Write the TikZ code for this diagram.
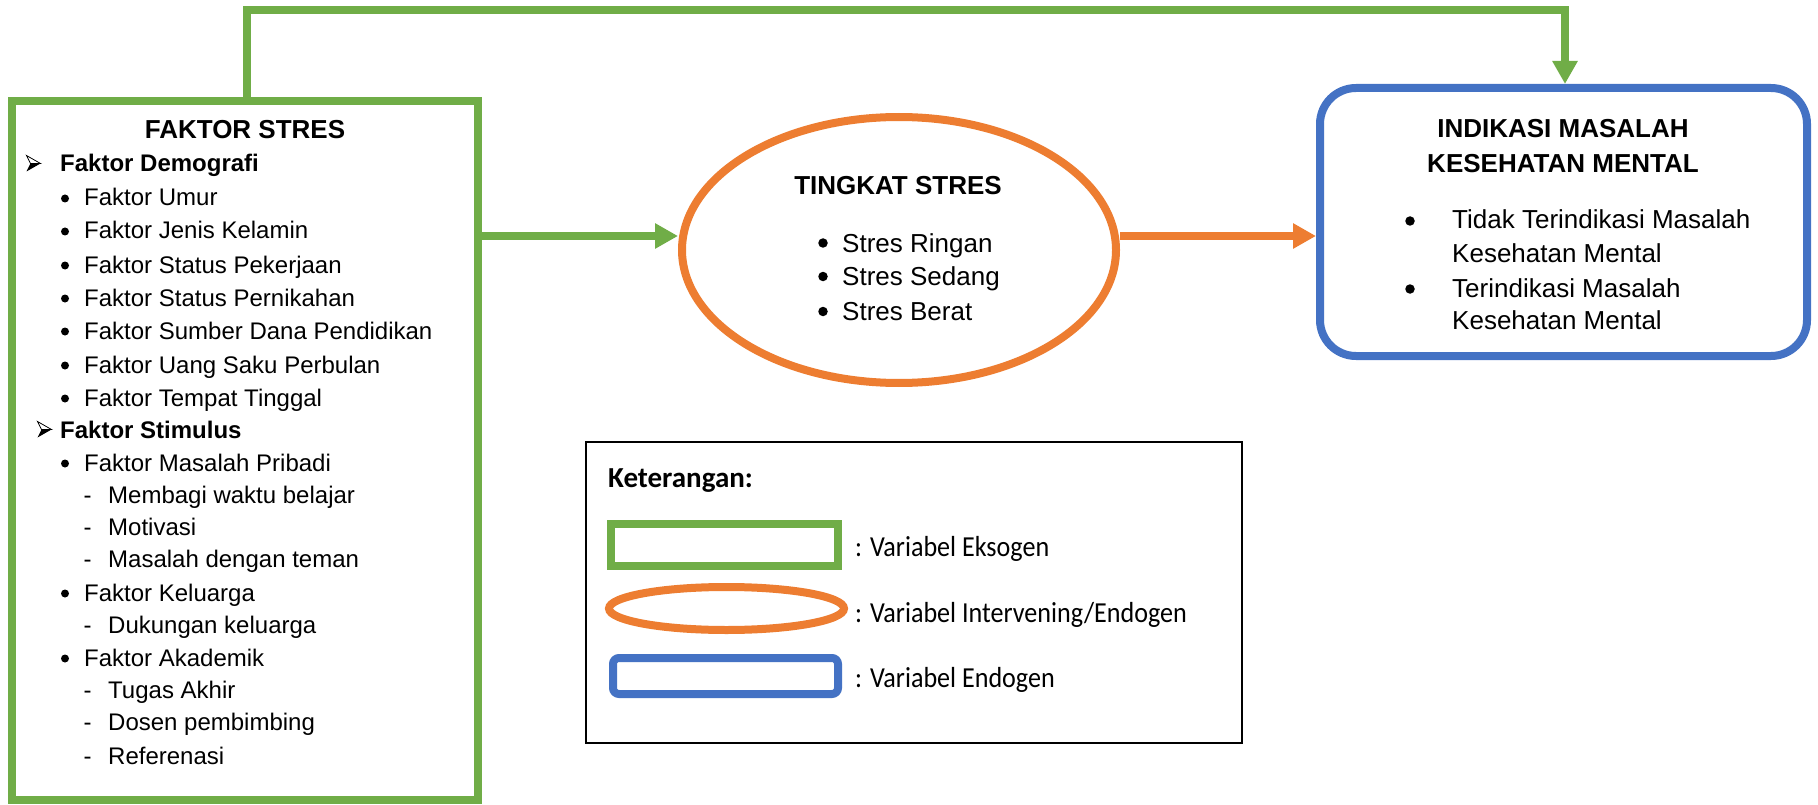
\documentclass[tikz,border=0pt]{standalone}
\usepackage{fontspec}
\setmainfont{Liberation Sans}
\newfontfamily\legendfont[FakeStretch=0.9]{Carlito}
\newfontfamily\legendbfont{Carlito}
\usetikzlibrary{arrows.meta,shapes.geometric}
\definecolor{cgreen}{HTML}{70AD47}
\definecolor{corange}{HTML}{ED7D31}
\definecolor{cblue}{HTML}{4472C4}
\tikzset{
  arrmark/.pic={
    \draw[line width=0.8pt, line join=miter] (-7,-8) -- (7,0) -- (-3,0) -- cycle;
    \fill (-3,0) -- (7,0) -- (-7,8) -- cycle;
  }
}
\begin{document}
\begin{tikzpicture}[x=1pt,y=-1pt,
  frame/.style={line width=8pt, fill=white, inner sep=0pt},
  conn/.style={line width=8pt},
  tipto/.style={-{Triangle[length=23pt,width=24pt]}},
  item/.style={anchor=base west, inner sep=0pt, font=\fontsize{24}{29}\selectfont},
  itemb/.style={anchor=base west, inner sep=0pt, font=\fontsize{24}{29}\selectfont\bfseries},
  dotm/.style={anchor=base, inner sep=0pt, font=\fontsize{24}{29}\selectfont},
  bul/.style={circle, fill=black, inner sep=0pt, minimum size=8pt},
  bigbul/.style={circle, fill=black, inner sep=0pt, minimum size=9.5pt},
  bigitem/.style={anchor=base west, inner sep=0pt, font=\fontsize{26}{31}\selectfont},
  ttl/.style={anchor=base, inner sep=0pt, font=\fontsize{26}{31}\selectfont\bfseries},
  legtxt/.style={anchor=base west, inner sep=0pt, font=\legendfont\fontsize{29}{34}\selectfont},
  legttl/.style={anchor=base west, inner sep=0pt, font=\legendbfont\fontsize{29}{34}\selectfont\bfseries},
]
\useasboundingbox (0,0) rectangle (1818,805);

% main shapes
\node[frame, draw=cgreen, minimum width=466pt, minimum height=699pt] (fs) at (245,450.5) {};
\node[frame, ellipse, draw=corange, minimum width=434pt, minimum height=266pt] (ts) at (899,250) {};
\node[frame, draw=cblue, rounded corners=36pt, minimum width=487pt, minimum height=268pt] (ik) at (1563.5,222) {};

% connectors
\coordinate (topy) at (0,10.5);
\coordinate (ay) at (0,236);
\coordinate (g0) at ([xshift=2pt]fs.north);
\coordinate (g1) at ([xshift=1.5pt]ik.north);
\draw[conn, draw=cgreen, tipto] (g0) |- (topy -| g1) -- (g1);
\draw[conn, draw=cgreen, tipto] (fs.east |- ay) -- (ts.west |- ay);
\draw[conn, draw=corange, tipto] (ts.east |- ay) -- (ik.west |- ay);

% FAKTOR STRES content
\node[ttl] (fst) at (245,139) {FAKTOR STRES};
\pic at (33.5,163.5) {arrmark};
\node[itemb] (dem) at (60,172) {Faktor Demografi};
\foreach \y/\t [count=\i] in {206/Faktor Umur, 239/Faktor Jenis Kelamin, 273/Faktor Status Pekerjaan, 306/Faktor Status Pernikahan, 339/Faktor Sumber Dana Pendidikan, 373/Faktor Uang Saku Perbulan, 406/Faktor Tempat Tinggal}{
  \node[bul] (db\i) at (65,\y-7.5) {};
  \node[item] (d\i) at (84,\y) {\t};
}
\pic at (44.5,429.5) {arrmark};
\node[itemb] (stim) at (60,438) {Faktor Stimulus};
\foreach \y/\t [count=\i] in {471/Faktor Masalah Pribadi, 601/Faktor Keluarga, 666/Faktor Akademik}{
  \node[bul] (sb\i) at (65,\y-7.5) {};
  \node[item] (s\i) at (84,\y) {\t};
}
\foreach \y/\t [count=\i] in {503/Membagi waktu belajar, 535/Motivasi, 567/Masalah dengan teman, 633/Dukungan keluarga, 698/Tugas Akhir, 730/Dosen pembimbing, 764/Referenasi}{
  \node[dotm] (sd\i) at (87.5,\y) {-};
  \node[item] (sx\i) at (108,\y) {\t};
}

% TINGKAT STRES content
\node[ttl] (tst) at (898,195) {TINGKAT STRES};
\foreach \y/\t [count=\i] in {252/Stres Ringan, 285.5/Stres Sedang, 320.5/Stres Berat}{
  \node[bigbul] (tb\i) at (823,\y-9) {};
  \node[bigitem] (t\i) at (842,\y) {\t};
}

% INDIKASI content
\node[ttl] (ikt1) at (1563,138) {INDIKASI MASALAH};
\node[ttl] (ikt2) at (1563,173) {KESEHATAN MENTAL};
\node[bigbul] (ib1) at (1410,221) {};
\node[bigitem] (i1) at (1452,229) {Tidak Terindikasi Masalah};
\node[bigitem] (i2) at (1452,262) {Kesehatan Mental};
\node[bigbul] (ib2) at (1410,289) {};
\node[bigitem] (i3) at (1452,297) {Terindikasi Masalah};
\node[bigitem] (i4) at (1452,329) {Kesehatan Mental};

% legend
\node[draw=black, line width=2.5pt, fill=white, minimum width=656pt, minimum height=301pt] (lg) at (914,592.5) {};
\node[legttl] (ket) at (608,487) {Keterangan:};
\node[frame, draw=cgreen, minimum width=227pt, minimum height=42pt] (lgg) at (724.5,545) {};
\node[frame, ellipse, draw=corange, minimum width=235pt, minimum height=43pt] (lgo) at (726.5,608.5) {};
\node[frame, draw=cblue, rounded corners=6pt, minimum width=225pt, minimum height=36pt] (lgb) at (725.5,676) {};
\node[legtxt] (lt1) at (855,556) {: Variabel Eksogen};
\node[legtxt] (lt2) at (855,622) {: Variabel Intervening/Endogen};
\node[legtxt] (lt3) at (855,687) {: Variabel Endogen};
\end{tikzpicture}
\end{document}
